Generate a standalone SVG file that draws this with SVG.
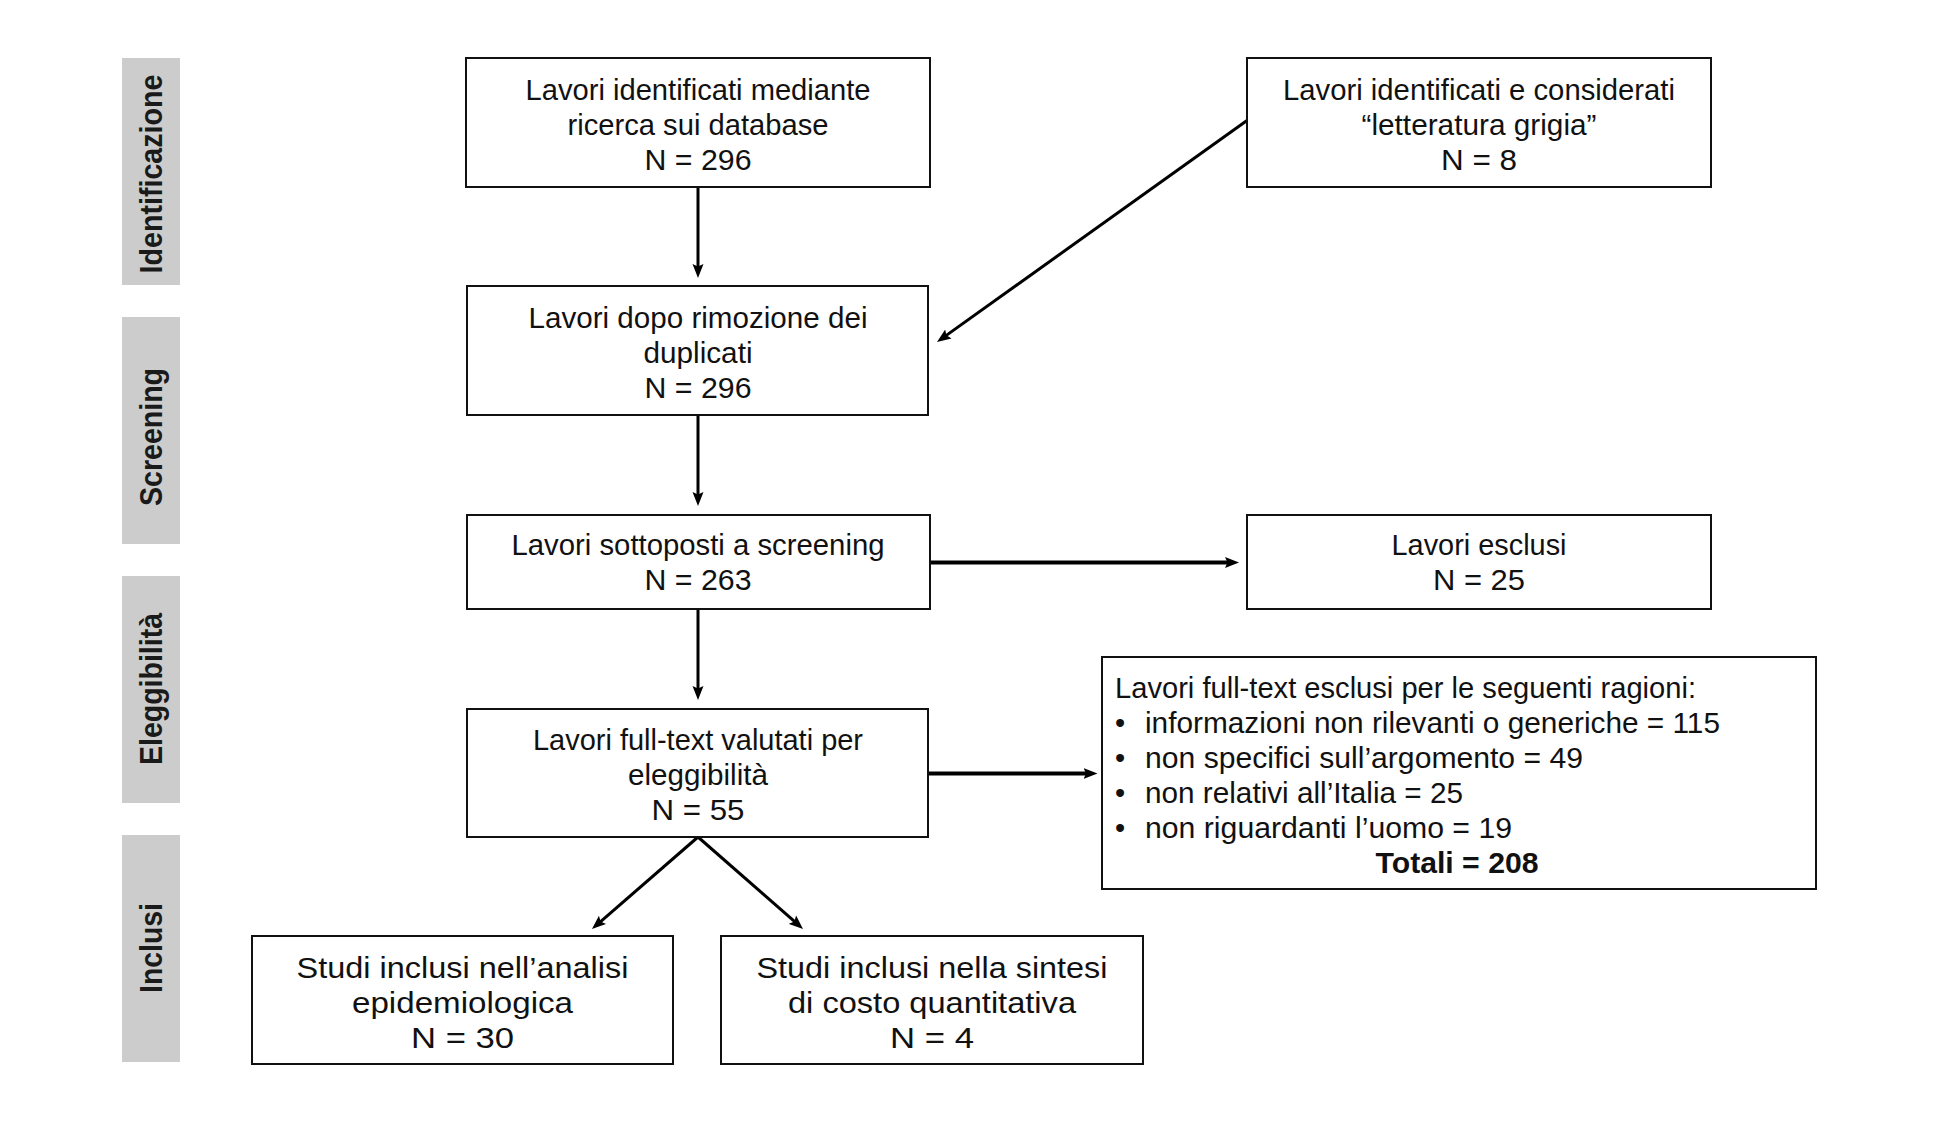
<svg xmlns="http://www.w3.org/2000/svg" width="1949" height="1123" viewBox="0 0 1949 1123">
<style>
  .box { fill: #ffffff; stroke: #111111; stroke-width: 2; }
  .t { font-family: "Liberation Sans", Arial, sans-serif; font-size: 29px; fill: #111111; }
  .c { text-anchor: middle; }
  .b { font-weight: bold; }
  .side { fill: #cccccc; }
  .st { font-family: "Liberation Sans", Arial, sans-serif; font-size: 32px; font-weight: bold; fill: #1a1a1a; text-anchor: middle; }
  .conn { fill: none; stroke: #000000; stroke-width: 3; }
  .thick { stroke-width: 4; }
</style>
<defs>
  <marker id="ah" markerUnits="userSpaceOnUse" markerWidth="16" markerHeight="12" refX="6" refY="6" orient="auto" viewBox="0 0 16 12">
    <path d="M0,0.5 L14,6 L0,11.5 L2.5,6 Z" fill="#000000"/>
  </marker>
</defs>
<rect width="1949" height="1123" fill="#ffffff"/>

<g id="phase-identificazione">
  <rect class="side" x="122" y="58" width="58" height="227"/>
  <text class="st" transform="translate(162,174) rotate(-90)" textLength="199" lengthAdjust="spacingAndGlyphs">Identificazione</text>
</g>
<g id="phase-screening">
  <rect class="side" x="122" y="317" width="58" height="227"/>
  <text class="st" transform="translate(162,437) rotate(-90)" textLength="138" lengthAdjust="spacingAndGlyphs">Screening</text>
</g>
<g id="phase-eleggibilita">
  <rect class="side" x="122" y="576" width="58" height="227"/>
  <text class="st" transform="translate(162,689) rotate(-90)" textLength="152" lengthAdjust="spacingAndGlyphs">Eleggibilità</text>
</g>
<g id="phase-inclusi">
  <rect class="side" x="122" y="835" width="58" height="227"/>
  <text class="st" transform="translate(162,948) rotate(-90)" textLength="90" lengthAdjust="spacingAndGlyphs">Inclusi</text>
</g>

<g id="connectors">
  <path class="conn" d="M698,187 L698,270" marker-end="url(#ah)"/>
  <path class="conn" d="M1247,120.5 L943.5,337.4" marker-end="url(#ah)"/>
  <path class="conn" d="M698,415 L698,498" marker-end="url(#ah)"/>
  <path class="conn thick" d="M930,562.5 L1231,562.5" marker-end="url(#ah)"/>
  <path class="conn" d="M698,609 L698,692" marker-end="url(#ah)"/>
  <path class="conn thick" d="M928,773.5 L1089.5,773.5" marker-end="url(#ah)"/>
  <path class="conn" d="M698,837 L598,923.8" marker-end="url(#ah)"/>
  <path class="conn" d="M698,837 L797,923.7" marker-end="url(#ah)"/>
</g>

<g id="n-database">
  <rect class="box" x="466" y="58" width="464" height="129"/>
  <text class="t c" x="698" y="100" textLength="345" lengthAdjust="spacingAndGlyphs">Lavori identificati mediante</text>
  <text class="t c" x="698" y="135" textLength="261" lengthAdjust="spacingAndGlyphs">ricerca sui database</text>
  <text class="t c" x="698" y="170" textLength="107" lengthAdjust="spacingAndGlyphs">N = 296</text>
</g>
<g id="n-grigia">
  <rect class="box" x="1247" y="58" width="464" height="129"/>
  <text class="t c" x="1479" y="100" textLength="392" lengthAdjust="spacingAndGlyphs">Lavori identificati e considerati</text>
  <text class="t c" x="1479" y="135" textLength="235" lengthAdjust="spacingAndGlyphs">“letteratura grigia”</text>
  <text class="t c" x="1479" y="170" textLength="76" lengthAdjust="spacingAndGlyphs">N = 8</text>
</g>
<g id="n-duplicati">
  <rect class="box" x="467" y="286" width="461" height="129"/>
  <text class="t c" x="698" y="328" textLength="339" lengthAdjust="spacingAndGlyphs">Lavori dopo rimozione dei</text>
  <text class="t c" x="698" y="363" textLength="109" lengthAdjust="spacingAndGlyphs">duplicati</text>
  <text class="t c" x="698" y="398" textLength="107" lengthAdjust="spacingAndGlyphs">N = 296</text>
</g>
<g id="n-screening">
  <rect class="box" x="467" y="515" width="463" height="94"/>
  <text class="t c" x="698" y="555" textLength="373" lengthAdjust="spacingAndGlyphs">Lavori sottoposti a screening</text>
  <text class="t c" x="698" y="590" textLength="107" lengthAdjust="spacingAndGlyphs">N = 263</text>
</g>
<g id="n-esclusi">
  <rect class="box" x="1247" y="515" width="464" height="94"/>
  <text class="t c" x="1479" y="555" textLength="175" lengthAdjust="spacingAndGlyphs">Lavori esclusi</text>
  <text class="t c" x="1479" y="590" textLength="92" lengthAdjust="spacingAndGlyphs">N = 25</text>
</g>
<g id="n-fulltext">
  <rect class="box" x="467" y="709" width="461" height="128"/>
  <text class="t c" x="698" y="750" textLength="330" lengthAdjust="spacingAndGlyphs">Lavori full-text valutati per</text>
  <text class="t c" x="698" y="785" textLength="140" lengthAdjust="spacingAndGlyphs">eleggibilità</text>
  <text class="t c" x="698" y="820" textLength="93" lengthAdjust="spacingAndGlyphs">N = 55</text>
</g>
<g id="n-ragioni">
  <rect class="box" x="1102" y="657" width="714" height="232"/>
  <text class="t" x="1115" y="698" textLength="581" lengthAdjust="spacingAndGlyphs">Lavori full-text esclusi per le seguenti ragioni:</text>
  <text class="t" x="1115" y="733">•</text>
  <text class="t" x="1145" y="733" textLength="575" lengthAdjust="spacingAndGlyphs">informazioni non rilevanti o generiche = 115</text>
  <text class="t" x="1115" y="768">•</text>
  <text class="t" x="1145" y="768" textLength="438" lengthAdjust="spacingAndGlyphs">non specifici sull’argomento = 49</text>
  <text class="t" x="1115" y="803">•</text>
  <text class="t" x="1145" y="803" textLength="318" lengthAdjust="spacingAndGlyphs">non relativi all’Italia = 25</text>
  <text class="t" x="1115" y="838">•</text>
  <text class="t" x="1145" y="838" textLength="367" lengthAdjust="spacingAndGlyphs">non riguardanti l’uomo = 19</text>
  <text class="t c b" x="1457" y="873" textLength="163" lengthAdjust="spacingAndGlyphs">Totali = 208</text>
</g>
<g id="n-epidemiologica">
  <rect class="box" x="252" y="936" width="421" height="128"/>
  <text class="t c" x="462.5" y="978" textLength="332" lengthAdjust="spacingAndGlyphs">Studi inclusi nell’analisi</text>
  <text class="t c" x="462.5" y="1013" textLength="221" lengthAdjust="spacingAndGlyphs">epidemiologica</text>
  <text class="t c" x="462.5" y="1048" textLength="103" lengthAdjust="spacingAndGlyphs">N = 30</text>
</g>
<g id="n-costo">
  <rect class="box" x="721" y="936" width="422" height="128"/>
  <text class="t c" x="932" y="978" textLength="351" lengthAdjust="spacingAndGlyphs">Studi inclusi nella sintesi</text>
  <text class="t c" x="932" y="1013" textLength="288" lengthAdjust="spacingAndGlyphs">di costo quantitativa</text>
  <text class="t c" x="932" y="1048" textLength="84" lengthAdjust="spacingAndGlyphs">N = 4</text>
</g>
</svg>
